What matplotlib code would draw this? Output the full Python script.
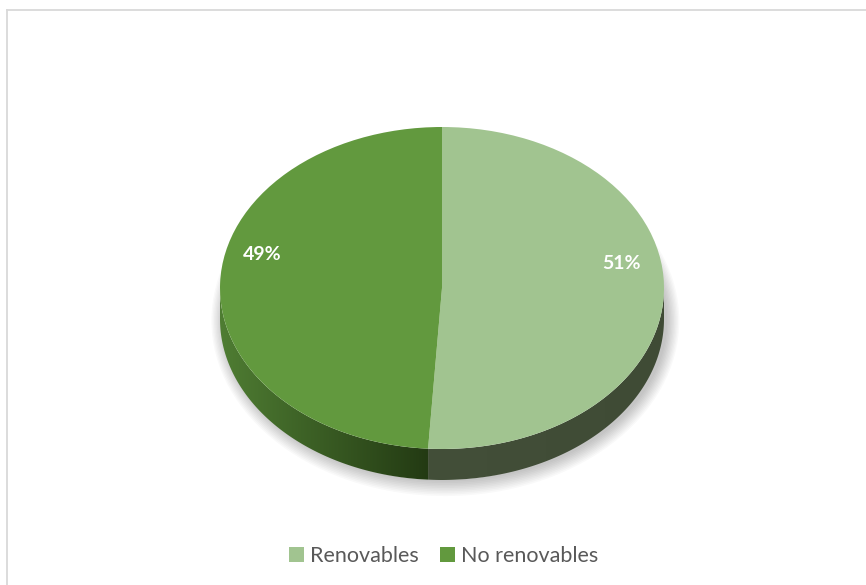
import numpy as np
import matplotlib.pyplot as plt
from matplotlib.patches import Polygon, Ellipse
from matplotlib.lines import Line2D
from matplotlib.colors import LinearSegmentedColormap

# data
labels = ['Renovables', 'No renovables']
values = [51, 49]
face_colors = ['#A1C490', '#62993E']
side_colors = [('#434F39', '#3F4B35'), ('#4F7D33', '#233A13')]  # (left, right) of each side

W, H = 866, 585
fig = plt.figure(figsize=(W / 100, H / 100), dpi=100)
ax = fig.add_axes([0, 0, 1, 1])

# pie centre / radii / thickness in pixels
cx, cy, rx, ry, depth_px = 442, 288, 222, 161, 31
d = depth_px / ry

wedges, _ = ax.pie(values, colors=face_colors, startangle=90, counterclock=False,
                   radius=1, wedgeprops=dict(linewidth=0, zorder=4))
ax.set_aspect('auto')
ax.axis('off')

# soft shadow under the pie
for k in range(10):
    ax.add_patch(Ellipse((0.015, -d - 0.01), 2.0 + 0.012 * k, 2.0 + 0.02 * k,
                         facecolor='#000000', alpha=0.022, lw=0, zorder=1))
ax.add_patch(Ellipse((0, -d * 0.5), 2.0, 2.0 + d, facecolor='white', lw=0, zorder=1.5))


def lower_part(t1, t2):
    for off in (-360, 0, 360):
        a, b = max(t1, -180 + off), min(t2, 0 + off)
        if b > a:
            return a, b
    return None


# pie sides
for w, (c_left, c_right) in zip(wedges, side_colors):
    part = lower_part(w.theta1, w.theta2)
    if part is None:
        continue
    t = np.radians(np.linspace(part[0], part[1], 200))
    xs = np.concatenate([np.cos(t), np.cos(t[::-1])])
    ys = np.concatenate([np.sin(t), np.sin(t[::-1]) - d])
    poly = Polygon(np.column_stack([xs, ys]), closed=True, facecolor='none', lw=0, zorder=3)
    ax.add_patch(poly)
    grad = np.linspace(0, 1, 256).reshape(1, -1)
    cmap = LinearSegmentedColormap.from_list('s', [c_left, c_right])
    im = ax.imshow(grad, cmap=cmap, aspect='auto', zorder=3,
                   extent=[xs.min(), xs.max(), ys.min(), ys.max()])
    im.set_clip_path(poly)

ax.set_xlim(-cx / rx, (W - cx) / rx)
ax.set_ylim((cy - H) / ry, cy / ry)

# percentage labels
for w, v in zip(wedges, values):
    mid = np.radians((w.theta1 + w.theta2) / 2)
    ax.text(0.81 * np.cos(mid), 0.81 * np.sin(mid) + 0.18, f'{v}%',
            ha='center', va='center', color='white', fontsize=14,
            fontweight='bold', family='Lato', zorder=5)

leg = fig.legend(wedges, labels, loc='center', bbox_to_anchor=(0.512, 1 - 556 / H),
                 ncol=2, frameon=False, handlelength=0.72, handleheight=0.72,
                 handletextpad=0.25, columnspacing=1.0, prop=dict(family='Lato', size=15.5))
for txt in leg.get_texts():
    txt.set_color('#595959')

# chart border
fig.add_artist(Line2D([7.5 / W, 7.5 / W], [0, 1 - 9.5 / H], color='#D9D9D9', lw=1.3))
fig.add_artist(Line2D([7.5 / W, 1], [1 - 9.5 / H, 1 - 9.5 / H], color='#D9D9D9', lw=1.3))

fig.savefig('out.png', dpi=100)
